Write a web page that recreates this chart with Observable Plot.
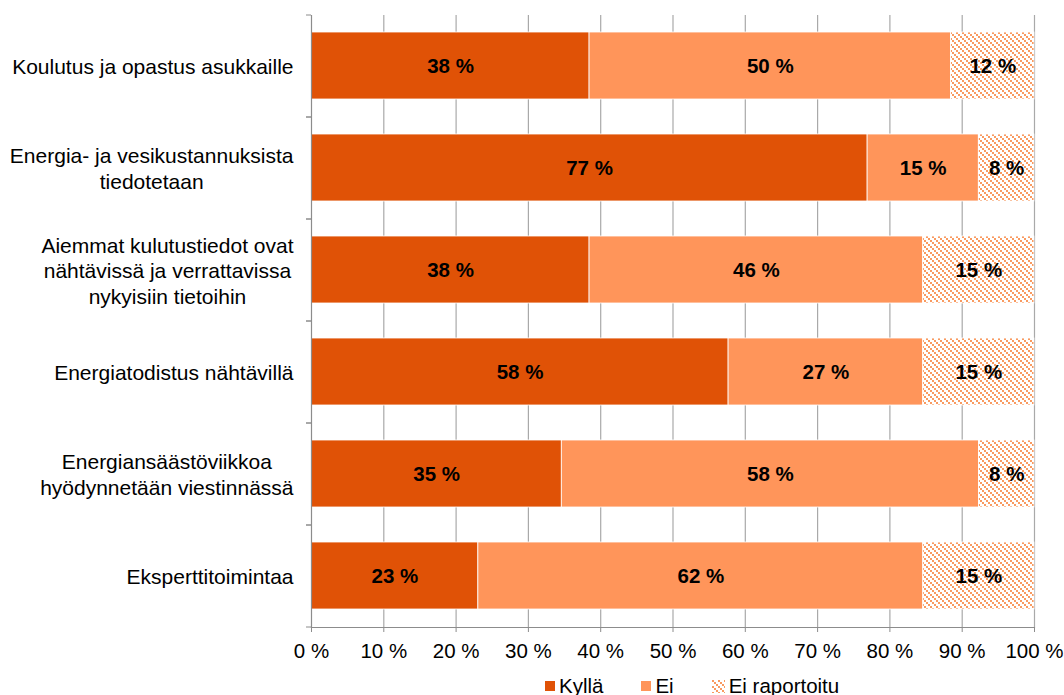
<!DOCTYPE html>
<html><head><meta charset="utf-8">
<script src="https://cdn.jsdelivr.net/npm/d3@7"></script>
<script src="https://cdn.jsdelivr.net/npm/@observablehq/plot@0.6"></script>
<style>
body{margin:0;background:#fff;font-family:"Liberation Sans",Arial,sans-serif;}
#legend{display:flex;gap:38px;margin-left:545px;height:28px;align-items:center;font-size:20.5px;color:#000}
.item{display:flex;align-items:center;gap:4px}
</style></head><body><div id="chart"></div><div id="legend"></div>
<script>
const categories = [
  "Koulutus ja opastus asukkaille",
  "Energia- ja vesikustannuksista\ntiedotetaan",
  "Aiemmat kulutustiedot ovat\nnähtävissä ja verrattavissa\nnykyisiin tietoihin",
  "Energiatodistus nähtävillä",
  "Energiansäästöviikkoa\nhyödynnetään viestinnässä",
  "Eksperttitoimintaa"
];
const series = ["Kyllä", "Ei", "Ei raportoitu"];
const kylla        = [38.46, 76.92, 38.46, 57.69, 34.62, 23.08];
const ei           = [50.00, 15.38, 46.15, 26.92, 57.69, 61.54];
const eiRaportoitu = [11.54,  7.69, 15.38, 15.38,  7.69, 15.38];
const xTicks = [0, 10, 20, 30, 40, 50, 60, 70, 80, 90, 100];
const colors = ["#E05206", "#FF955A", "url(#hatch)"];

const seriesValues = [kylla, ei, eiRaportoitu];
const table = [];
categories.forEach((c, i) => series.forEach((s, j) => table.push({category: c, series: s, value: seriesValues[j][i]})));

const W = 1064, H = 672, mt = 15, mb = 45, ml = 311, mr = 30;
const step = (H - mt - mb) / categories.length;
const catSize = 21;
const ctx = document.createElement("canvas").getContext("2d");
ctx.font = catSize + 'px "Liberation Sans", Arial, sans-serif';
const labelWidth = c => Math.max(...c.split("\n").map(l => ctx.measureText(l).width));

const svg = Plot.plot({
  width: W, height: H, marginLeft: ml, marginRight: mr, marginTop: mt, marginBottom: mb,
  style: {fontFamily: '"Liberation Sans", Arial, sans-serif', fontSize: "20.5px", color: "#000", background: "#fff"},
  x: {domain: [0, 100]},
  y: {domain: categories, paddingInner: 0.34, paddingOuter: 0.17},
  color: {domain: series, range: colors},
  marks: [
    Plot.gridX(xTicks.filter(d => d > 0), {stroke: "#a9a9a9", strokeOpacity: 1, strokeWidth: 1.2}),
    Plot.barX(table, Plot.stackX({y: "category", x: "value", z: "series", fill: "series", order: series, stroke: "#fff", strokeWidth: 0.8})),
    Plot.text(table, Plot.stackX({y: "category", x: "value", z: "series", order: series, text: d => Math.round(d.value) + " %", fontWeight: "bold", fill: "#000", fontSize: 20.5})),
    Plot.frame({anchor: "bottom", stroke: "#8c8c8c", strokeWidth: 1.2}),
    Plot.frame({anchor: "left", stroke: "#8c8c8c", strokeWidth: 1.2}),
    Plot.axisX({ticks: xTicks, tickFormat: d => d + " %", tickSize: 5, tickPadding: 11, stroke: "#8c8c8c", fill: "#000", fontSize: 20.5, label: null}),
    Plot.axisY({tickSize: 5, tickFormat: () => "", dy: -step / 2, stroke: "#8c8c8c", label: null}),
    Plot.axisY({tickSize: 5, tickFormat: () => "", dy: step / 2, stroke: "#8c8c8c", label: null}),
    ...categories.map(c => Plot.text([c], {
      y: d => d, x: () => 0, text: d => d, textAnchor: "middle", lineHeight: 1.21,
      dx: -(18 + labelWidth(c) / 2), fill: "#000", fontSize: catSize
    }))
  ]
});

const defs = d3.select(svg).insert("defs", ":first-child");
const p = defs.append("pattern").attr("id", "hatch").attr("patternUnits", "userSpaceOnUse").attr("width", 6).attr("height", 6);
p.append("rect").attr("width", 6).attr("height", 6).attr("fill", "#fff");
[[0, 0], [2, 2], [4, 4]].forEach(([x, y]) =>
  p.append("rect").attr("x", x).attr("y", y).attr("width", 2).attr("height", 2).attr("fill", "#F99A60").attr("shape-rendering", "crispEdges"));

document.getElementById("chart").appendChild(svg);

const legend = document.getElementById("legend");
series.forEach((s, i) => {
  const item = document.createElement("div");
  item.className = "item";
  const sw = document.createElementNS("http://www.w3.org/2000/svg", "svg");
  const size = i === 2 ? 13 : 10;
  sw.setAttribute("width", size); sw.setAttribute("height", size);
  const r = document.createElementNS("http://www.w3.org/2000/svg", "rect");
  r.setAttribute("width", size); r.setAttribute("height", size); r.setAttribute("fill", colors[i]);
  sw.appendChild(r);
  const t = document.createElement("span");
  t.textContent = s;
  item.appendChild(sw); item.appendChild(t);
  legend.appendChild(item);
});
</script>
</body></html>
